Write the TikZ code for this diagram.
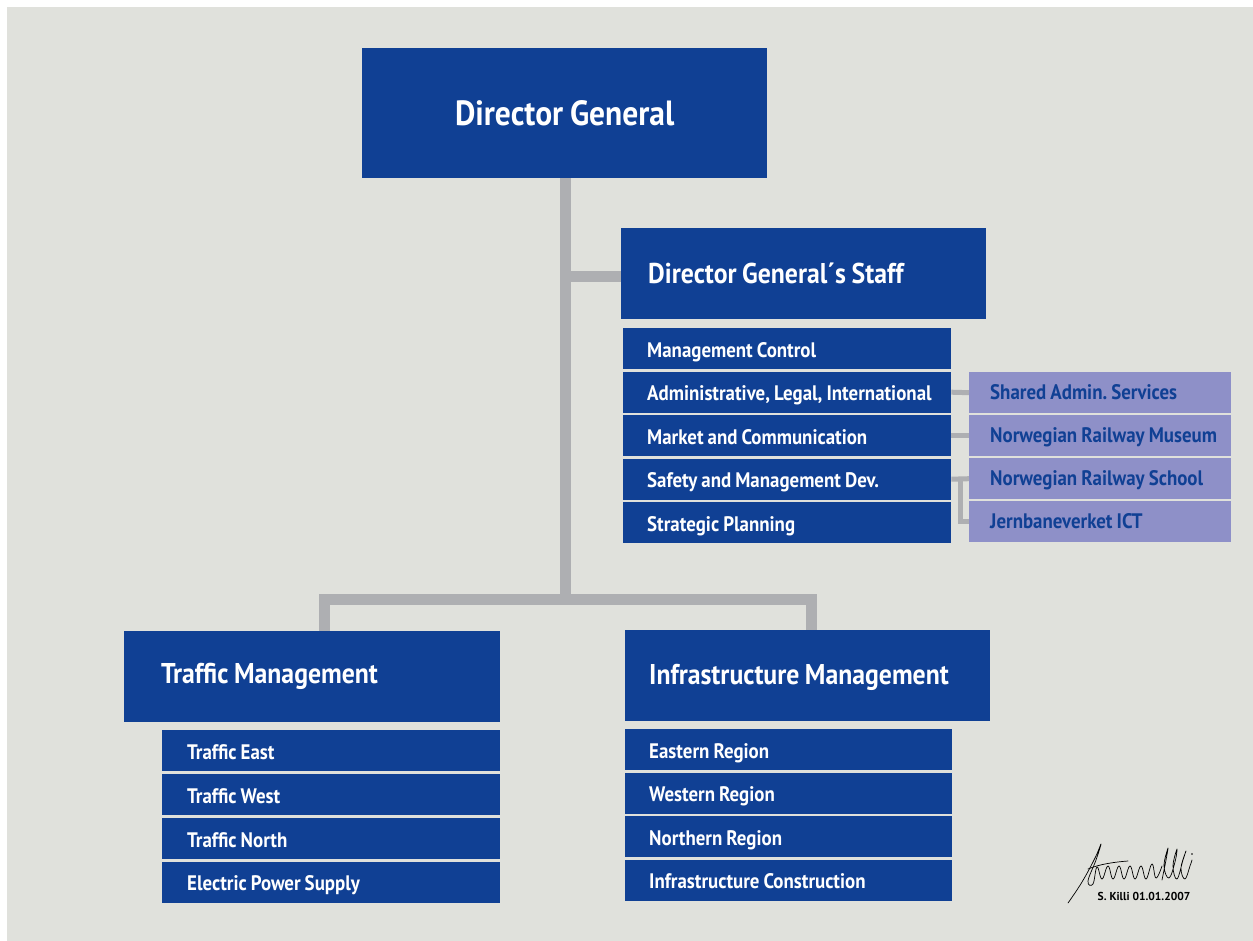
\documentclass[tikz,border=0pt]{standalone}
\usepackage{fontspec}
\setmainfont{PT Sans}[FakeStretch=0.9,WordSpace=0.85]
\newfontfamily\signfont{PT Sans}
\definecolor{jbvblue}{RGB}{16,64,148}
\definecolor{linkgray}{RGB}{174,175,178}
\definecolor{bggray}{RGB}{224,225,220}
\definecolor{lilac}{RGB}{142,144,200}
\newcommand\ulabel[2]{\makebox[#1][l]{#2}}
\frenchspacing
\begin{document}
\begin{tikzpicture}[x=1pt,y=-1pt,
  headbox/.style={fill=jbvblue,text=white,anchor=north west,font=\bfseries\fontsize{28.6}{32}\selectfont,minimum height=91pt,inner ysep=0pt,text depth=0pt},
  unitbox/.style={fill=jbvblue,text=white,anchor=north west,font=\bfseries\fontsize{21}{24}\selectfont,minimum height=41pt,inner xsep=24pt,inner ysep=0pt,text height=17pt,text depth=0pt},
  sidebox/.style={unitbox,fill=lilac,text=jbvblue,inner xsep=21pt,text height=14pt},
  link/.style={draw=linkgray,line width=11pt},
  sidelink/.style={draw=linkgray,line width=5pt},
  sig/.style={draw=black,line width=0.7pt,line cap=round,line join=round}]
 \useasboundingbox (0,0) rectangle (1253,941);
 \fill[bggray] (7,7) rectangle (1253,941);
 % top level
 \node[headbox,minimum height=130pt,minimum width=405pt,text height=24pt,font=\bfseries\fontsize{35}{40}\selectfont] (dg) at (362,48) {Director General};
 \node[headbox,inner xsep=27pt,text height=19pt] (staff) at (621,228) {\ulabel{311pt}{Director General´s Staff}};
 \node[headbox,inner xsep=37pt,text height=14pt] (traffic) at (124,631) {\ulabel{302pt}{Traffic Management}};
 \node[headbox,inner xsep=24pt,text height=17pt] (infra) at (625,630) {\ulabel{317pt}{Infrastructure Management}};
 % units
 \foreach \lbl [count=\i] in {Management Control,{Administrative, Legal, International},Market and Communication,Safety and Management Dev.,Strategic Planning}
  \node[unitbox] (staff\i) at (623,{328+43.5*(\i-1)}) {\ulabel{280pt}{\lbl}};
 \foreach \lbl [count=\i] in {Shared Admin. Services,Norwegian Railway Museum,Norwegian Railway School,Jernbaneverket ICT}
  \node[sidebox] (side\i) at (969,{372+43*(\i-1)}) {\ulabel{220pt}{\lbl}};
 \foreach \lbl [count=\i] in {Traffic East,Traffic West,Traffic North,Electric Power Supply}
  \node[unitbox,inner xsep=25pt] (traffic\i) at (162,{730+43.9*(\i-1)}) {\ulabel{288pt}{\lbl}};
 \foreach \lbl [count=\i] in {Eastern Region,Western Region,Northern Region,Infrastructure Construction}
  \node[unitbox] (infra\i) at (625,{729+43.5*(\i-1)}) {\ulabel{279pt}{\lbl}};
 % connectors
 \coordinate (fork) at (565.5,599);
 \coordinate (forkL) at (324,599);
 \coordinate (forkR) at (811,599);
 \draw[link] (dg.south -| fork) -- (fork);
 \draw[link] (fork |- staff.west) ++(0,3) -- ++(55.5,0);
 \draw[link,line join=miter] (traffic.north -| forkL) -- (forkL) -- (forkR) -- (infra.north -| forkR);
 \draw[sidelink] (staff2.east) -- (side1.west);
 \draw[sidelink] (staff3.east) -- (side2.west);
 \draw[sidelink] (staff4.east) -- (side3.west);
 \draw[sidelink] (staff4.east) ++(9,0) |- (side4.west);
 % signature
 \draw[sig] plot[smooth,tension=0.7] coordinates {(1068,903) (1082,882) (1095,858) (1101,844) (1096,860) (1088,881) (1093,884) (1097,867) (1102,879) (1108,866) (1113,879) (1119,866) (1124,879) (1130,866) (1135,879) (1141,866) (1146,879) (1152,864) (1156,878) (1162,866)};
 \draw[sig] (1088,869) .. controls (1100,864) and (1115,862) .. (1128,861);
 \draw[sig] plot[smooth,tension=0.7] coordinates {(1162,880) (1166,860) (1168,848) (1164,866) (1169,878) (1175,862) (1177,849) (1173,866) (1177,879) (1183,860) (1186,851) (1181,868) (1185,879) (1190,866) (1192,860)};
 \fill (1192,854) circle (0.9pt);
 \node[font=\signfont\bfseries\fontsize{11.5}{13}\selectfont] (sigtext) at (1144,896) {S. Killi 01.01.2007};
\end{tikzpicture}
\end{document}
